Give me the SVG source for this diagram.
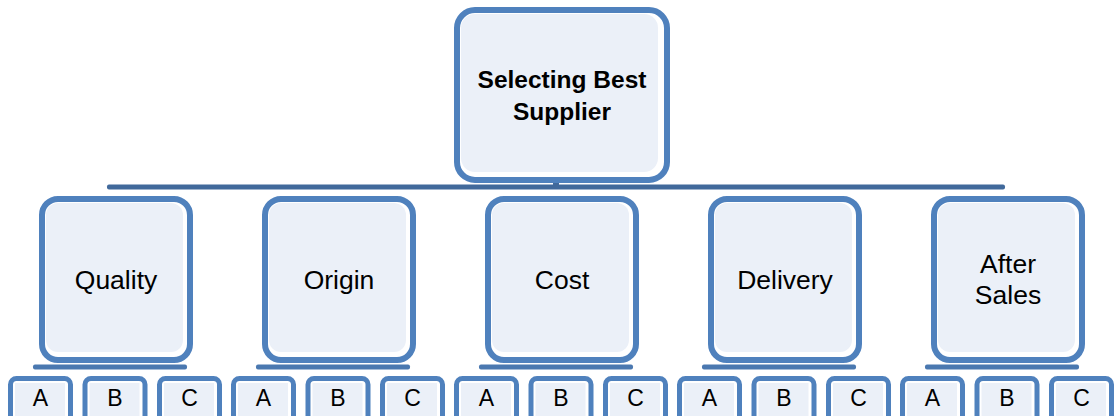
<svg xmlns="http://www.w3.org/2000/svg" width="1116" height="416" viewBox="0 0 1116 416">
<defs>
<style>
.bg{fill:#ffffff}
.box{fill:#ffffff;stroke:#4F81BD;stroke-width:6}
.sbox{fill:#ffffff;stroke:#4F81BD;stroke-width:5}
.fill{fill:#EBF0F8}
.bar{fill:#41699B}
.sbar{fill:#4A78B0}
text{font-family:"Liberation Sans",Arial,sans-serif;fill:#000;text-anchor:middle}
.t1{font-size:24.5px;font-weight:bold}
.t2{font-size:26.5px}
.t3{font-size:23px}
</style>
</defs>
<rect class="bg" x="0" y="0" width="1116" height="416"/>
<g id="connectors">
<rect class="bar" x="107" y="184.5" width="898" height="5" rx="2"/>
<rect class="bar" x="553" y="182" width="6" height="4"/>
<rect class="sbar" x="33" y="364.5" width="154" height="5" rx="2"/>
<rect class="sbar" x="256" y="364.5" width="154" height="5" rx="2"/>
<rect class="sbar" x="479" y="364.5" width="154" height="5" rx="2"/>
<rect class="sbar" x="702" y="364.5" width="154" height="5" rx="2"/>
<rect class="sbar" x="925" y="364.5" width="154" height="5" rx="2"/>
</g>
<g id="root" transform="translate(562,0)">
<rect class="box" x="-105" y="10" width="210" height="170" rx="18"/>
<rect class="fill" x="-101" y="14" width="197" height="158" rx="14"/>
<text class="t1" x="0" y="88">Selecting Best</text>
<text class="t1" x="0" y="120">Supplier</text>
</g>
<g id="quality" transform="translate(116,196)">
<rect class="box" x="-74" y="3" width="148" height="161" rx="16"/>
<rect class="fill" x="-70" y="7" width="137" height="149" rx="12"/>
<text class="t2" x="0" y="93">Quality</text>
</g>
<g id="origin" transform="translate(339,196)">
<rect class="box" x="-74" y="3" width="148" height="161" rx="16"/>
<rect class="fill" x="-70" y="7" width="137" height="149" rx="12"/>
<text class="t2" x="0" y="93">Origin</text>
</g>
<g id="cost" transform="translate(562,196)">
<rect class="box" x="-74" y="3" width="148" height="161" rx="16"/>
<rect class="fill" x="-70" y="7" width="137" height="149" rx="12"/>
<text class="t2" x="0" y="93">Cost</text>
</g>
<g id="delivery" transform="translate(785,196)">
<rect class="box" x="-74" y="3" width="148" height="161" rx="16"/>
<rect class="fill" x="-70" y="7" width="137" height="149" rx="12"/>
<text class="t2" x="0" y="93">Delivery</text>
</g>
<g id="aftersales" transform="translate(1008,196)">
<rect class="box" x="-74" y="3" width="148" height="161" rx="16"/>
<rect class="fill" x="-70" y="7" width="137" height="149" rx="12"/>
<text class="t2" x="0" y="77">After</text>
<text class="t2" x="0" y="108">Sales</text>
</g>
<g id="quality-a" transform="translate(40.5,0)"><rect class="sbox" x="-30" y="378.5" width="60" height="50" rx="6"/><rect class="fill" x="-25.5" y="383" width="50" height="40"/><text class="t3" x="0" y="406">A</text></g>
<g id="quality-b" transform="translate(115,0)"><rect class="sbox" x="-30" y="378.5" width="60" height="50" rx="6"/><rect class="fill" x="-25.5" y="383" width="50" height="40"/><text class="t3" x="0" y="406">B</text></g>
<g id="quality-c" transform="translate(189.5,0)"><rect class="sbox" x="-30" y="378.5" width="60" height="50" rx="6"/><rect class="fill" x="-25.5" y="383" width="50" height="40"/><text class="t3" x="0" y="406">C</text></g>
<g id="origin-a" transform="translate(263.5,0)"><rect class="sbox" x="-30" y="378.5" width="60" height="50" rx="6"/><rect class="fill" x="-25.5" y="383" width="50" height="40"/><text class="t3" x="0" y="406">A</text></g>
<g id="origin-b" transform="translate(338,0)"><rect class="sbox" x="-30" y="378.5" width="60" height="50" rx="6"/><rect class="fill" x="-25.5" y="383" width="50" height="40"/><text class="t3" x="0" y="406">B</text></g>
<g id="origin-c" transform="translate(412.5,0)"><rect class="sbox" x="-30" y="378.5" width="60" height="50" rx="6"/><rect class="fill" x="-25.5" y="383" width="50" height="40"/><text class="t3" x="0" y="406">C</text></g>
<g id="cost-a" transform="translate(486.5,0)"><rect class="sbox" x="-30" y="378.5" width="60" height="50" rx="6"/><rect class="fill" x="-25.5" y="383" width="50" height="40"/><text class="t3" x="0" y="406">A</text></g>
<g id="cost-b" transform="translate(561,0)"><rect class="sbox" x="-30" y="378.5" width="60" height="50" rx="6"/><rect class="fill" x="-25.5" y="383" width="50" height="40"/><text class="t3" x="0" y="406">B</text></g>
<g id="cost-c" transform="translate(635.5,0)"><rect class="sbox" x="-30" y="378.5" width="60" height="50" rx="6"/><rect class="fill" x="-25.5" y="383" width="50" height="40"/><text class="t3" x="0" y="406">C</text></g>
<g id="delivery-a" transform="translate(709.5,0)"><rect class="sbox" x="-30" y="378.5" width="60" height="50" rx="6"/><rect class="fill" x="-25.5" y="383" width="50" height="40"/><text class="t3" x="0" y="406">A</text></g>
<g id="delivery-b" transform="translate(784,0)"><rect class="sbox" x="-30" y="378.5" width="60" height="50" rx="6"/><rect class="fill" x="-25.5" y="383" width="50" height="40"/><text class="t3" x="0" y="406">B</text></g>
<g id="delivery-c" transform="translate(858.5,0)"><rect class="sbox" x="-30" y="378.5" width="60" height="50" rx="6"/><rect class="fill" x="-25.5" y="383" width="50" height="40"/><text class="t3" x="0" y="406">C</text></g>
<g id="aftersales-a" transform="translate(932.5,0)"><rect class="sbox" x="-30" y="378.5" width="60" height="50" rx="6"/><rect class="fill" x="-25.5" y="383" width="50" height="40"/><text class="t3" x="0" y="406">A</text></g>
<g id="aftersales-b" transform="translate(1007,0)"><rect class="sbox" x="-30" y="378.5" width="60" height="50" rx="6"/><rect class="fill" x="-25.5" y="383" width="50" height="40"/><text class="t3" x="0" y="406">B</text></g>
<g id="aftersales-c" transform="translate(1081.5,0)"><rect class="sbox" x="-30" y="378.5" width="60" height="50" rx="6"/><rect class="fill" x="-25.5" y="383" width="50" height="40"/><text class="t3" x="0" y="406">C</text></g>
</svg>
